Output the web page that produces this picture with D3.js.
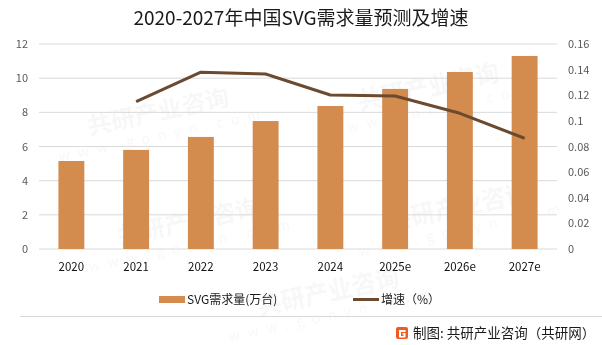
<!DOCTYPE html>
<html>
<head>
<meta charset="utf-8">
<script src="https://cdn.jsdelivr.net/npm/d3@7"></script>
<style>
  body { margin: 0; background: #fff; }
  text { font-family: "Noto Sans CJK SC", "Noto Sans", sans-serif; }
</style>
</head>
<body>
<div id="chart"></div>
<script>
const years = ["2020", "2021", "2022", "2023", "2024", "2025e", "2026e", "2027e"];
const demand = [5.15, 5.8, 6.56, 7.49, 8.37, 9.37, 10.36, 11.3];
const growth = [null, 0.115, 0.138, 0.1366, 0.1202, 0.1194, 0.1059, 0.0864];
const leftTicks = [0, 2, 4, 6, 8, 10, 12];
const rightTicks = [0, 0.02, 0.04, 0.06, 0.08, 0.1, 0.12, 0.14, 0.16];

const W = 602, H = 345;
const margin = { top: 44, right: 45, bottom: 96, left: 39 };
const barColor = "#d38b4e";
const lineColor = "#6b4a30";

const svg = d3.select("#chart").append("svg")
  .attr("width", W)
  .attr("height", H);

// faint watermark, kept inside the picture
const wm = svg.append("g").attr("fill", "#000").attr("opacity", 0.035);
const spots = [[160, 120], [430, 95], [190, 230], [460, 215], [330, 300]];
spots.forEach(([x, y]) => {
  const g = wm.append("g").attr("transform", "translate(" + x + "," + y + ") rotate(-12)");
  g.append("text").attr("text-anchor", "middle").attr("font-size", 24).attr("font-weight", "bold").text("共研产业咨询");
  g.append("text").attr("y", 20).attr("text-anchor", "middle").attr("font-size", 14).attr("letter-spacing", 8).text("www.gonyn.com");
});

const plot = svg.append("g").attr("transform", "translate(" + margin.left + "," + margin.top + ")");
const width = W - margin.left - margin.right;
const height = H - margin.top - margin.bottom;

const x = d3.scaleBand().domain(years).range([0, width]).paddingInner(0.6).paddingOuter(0.3);
const yL = d3.scaleLinear().domain([0, 12]).range([height, 0]);
const yR = d3.scaleLinear().domain([0, 0.16]).range([height, 0]);

// gridlines
plot.append("g")
  .selectAll("line")
  .data(leftTicks)
  .join("line")
  .attr("x1", 0)
  .attr("x2", width)
  .attr("y1", d => yL(d))
  .attr("y2", d => yL(d))
  .attr("stroke", "#d9d9d9")
  .attr("stroke-width", 1);

// left axis
const leftAxis = plot.append("g")
  .call(d3.axisLeft(yL).tickValues(leftTicks).tickSize(0).tickPadding(11));
leftAxis.select(".domain").remove();
leftAxis.selectAll("text").attr("font-size", 11).attr("fill", "#595959");

// right axis
const rightAxis = plot.append("g")
  .attr("transform", "translate(" + width + ",0)")
  .call(d3.axisRight(yR).tickValues(rightTicks).tickSize(0).tickPadding(11).tickFormat(d => d === 0 ? "0" : d3.format("")(+d.toFixed(2))));
rightAxis.select(".domain").remove();
rightAxis.selectAll("text").attr("font-size", 11).attr("fill", "#595959");

// bottom axis
const bottomAxis = plot.append("g")
  .attr("transform", "translate(0," + height + ")")
  .call(d3.axisBottom(x).tickSize(0).tickPadding(14));
bottomAxis.select(".domain").remove();
bottomAxis.selectAll("text").attr("font-size", 11.5).attr("fill", "#111");

// bars
plot.append("g")
  .selectAll("rect")
  .data(demand)
  .join("rect")
  .attr("x", (d, i) => x(years[i]))
  .attr("y", d => yL(d))
  .attr("width", x.bandwidth())
  .attr("height", d => height - yL(d))
  .attr("fill", barColor);

// growth line
const line = d3.line()
  .defined(d => d.v !== null)
  .x(d => x(d.year) + x.bandwidth() / 2)
  .y(d => yR(d.v));

plot.append("path")
  .datum(years.map((year, i) => ({ year: year, v: growth[i] })))
  .attr("d", line)
  .attr("fill", "none")
  .attr("stroke", lineColor)
  .attr("stroke-width", 3)
  .attr("stroke-linejoin", "round");

// title
svg.append("text")
  .attr("x", W / 2)
  .attr("y", 25)
  .attr("text-anchor", "middle")
  .attr("font-size", 19)
  .attr("fill", "#1a1a1a")
  .text("2020-2027年中国SVG需求量预测及增速");

// legend
const legend = svg.append("g").attr("transform", "translate(0,299)");
legend.append("rect").attr("x", 159).attr("y", -3).attr("width", 26).attr("height", 7).attr("fill", barColor);
legend.append("text").attr("x", 187).attr("y", 4.5).attr("font-size", 12).attr("fill", "#1a1a1a").text("SVG需求量(万台)");
legend.append("line").attr("x1", 353).attr("x2", 379).attr("y1", 0.5).attr("y2", 0.5).attr("stroke", lineColor).attr("stroke-width", 3);
legend.append("text").attr("x", 381).attr("y", 4.5).attr("font-size", 12).attr("fill", "#1a1a1a").text("增速（%）");

// separator
svg.append("line")
  .attr("x1", 20).attr("x2", W).attr("y1", 316.5).attr("y2", 316.5)
  .attr("stroke", "#d9d9d9").attr("stroke-width", 1);

// source
const logo = svg.append("g").attr("transform", "translate(396,327)");
logo.append("rect").attr("width", 12).attr("height", 12).attr("rx", 2).attr("fill", "#f05a22");
logo.append("path").attr("d", "M3,3 H9.5 V5 H5 V9 H7.5 V7.5 H6.5 V6 H9.5 V10.5 H3 Z").attr("fill", "#fff");
svg.append("text")
  .attr("x", 413)
  .attr("y", 338)
  .attr("font-size", 13.5)
  .attr("fill", "#1a1a1a")
  .text("制图: 共研产业咨询（共研网）");
</script>
</body>
</html>
